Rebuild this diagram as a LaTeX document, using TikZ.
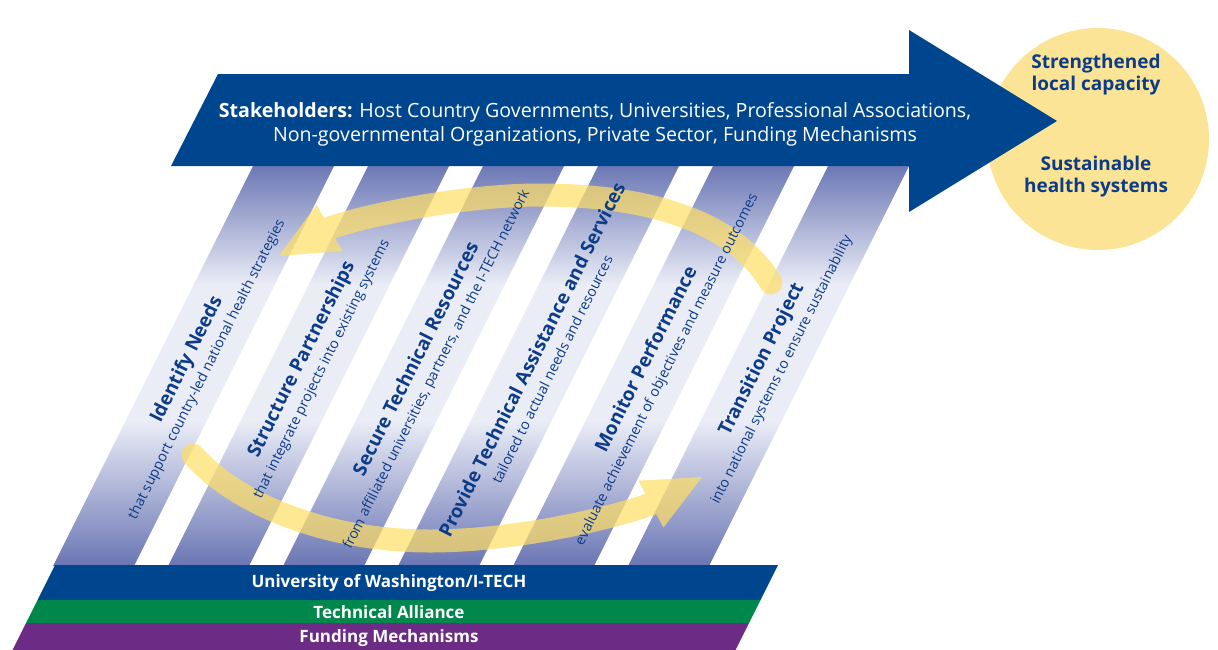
\documentclass[tikz,border=0pt]{standalone}
\usepackage{fontspec}
\setmainfont{Open Sans}
\usepackage{xcolor}
\usepackage{tikz}
\usetikzlibrary{shapes,arrows.meta,positioning,calc}

\definecolor{itechblue}{RGB}{0,70,142}
\definecolor{itechgreen}{RGB}{0,136,76}
\definecolor{itechpurple}{RGB}{108,44,134}
\definecolor{stripedark}{RGB}{106,118,180}
\definecolor{stripelight}{RGB}{234,236,246}
\definecolor{goalyellow}{RGB}{252,228,150}
\definecolor{cyclegold}{RGB}{255,222,100}
\definecolor{steptext}{RGB}{12,60,136}

\pgfdeclareverticalshading{stripeshade}{100bp}{color(0bp)=(stripedark); color(25bp)=(stripedark); color(43bp)=(stripelight); color(60bp)=(stripelight); color(75bp)=(stripedark); color(100bp)=(stripedark)}

\newcommand{\steptitle}{\fontsize{19}{21}\bfseries\selectfont}

\begin{document}
\begin{tikzpicture}[
    x=1pt, y=-1pt,
    stripe/.style={shading=stripeshade},
    steplabel/.style={rotate=63.43, align=center, text=steptext, inner sep=0pt, font=\fontsize{14.2}{21}\selectfont},
    cyclearrow/.style={line width=23pt, draw=cyclegold, line cap=round, -{Triangle[length=60pt, width=48pt]}},
    goalcircle/.style={circle, fill=goalyellow, minimum size=222pt, inner sep=0pt},
    goaltext/.style={align=center, text=steptext, font=\fontsize{19}{22}\bfseries\selectfont},
    bandtext/.style={text=white, font=\fontsize{17}{19}\bfseries\selectfont}
]
    \useasboundingbox (0,0) rectangle (1218,649);

    \path [stripe] (254,164) -- ++(81,0) -- ++(-201,402) -- ++(-81,0) -- cycle;
    \path [stripe] (369,164) -- ++(81,0) -- ++(-201,402) -- ++(-81,0) -- cycle;
    \path [stripe] (484,164) -- ++(81,0) -- ++(-201,402) -- ++(-81,0) -- cycle;
    \path [stripe] (599,164) -- ++(81,0) -- ++(-201,402) -- ++(-81,0) -- cycle;
    \path [stripe] (714,164) -- ++(81,0) -- ++(-201,402) -- ++(-81,0) -- cycle;
    \path [stripe] (829,164) -- ++(81,0) -- ++(-201,402) -- ++(-81,0) -- cycle;

    \begin{scope}[transparency group, opacity=0.7]
        \draw [cyclearrow] (771,283) .. controls (735,222) and (650,195) .. (540,195) .. controls (450,195) and (340,222) .. (277,257);
    \end{scope}
    \begin{scope}[transparency group, opacity=0.7]
        \draw [cyclearrow] (193,455) .. controls (232,500) and (320,541) .. (430,541) .. controls (530,541) and (640,510) .. (704,476);
    \end{scope}

    \node [steplabel] (needs) at (196,364) {{\steptitle Identify Needs}\\that support country-led national health strategies};
    \node [steplabel] (partner) at (311,364) {{\steptitle Structure Partnerships}\\that integrate projects into existing systems};
    \node [steplabel] (resource) at (426,364) {{\steptitle Secure Technical Resources}\\from affiliated universities, partners, and the I-TECH network};
    \node [steplabel] (assist) at (541,364) {{\steptitle Provide Technical Assistance and Services}\\tailored to actual needs and resources};
    \node [steplabel] (monitor) at (656,364) {{\steptitle Monitor Performance}\\evaluate achievement of objectives and measure outcomes};
    \node [steplabel] (transit) at (771,364) {{\steptitle Transition Project}\\into national systems to ensure sustainability};

    \node [goalcircle] (goal) at (1098,139) {};
    \node [goaltext] (capacity) at (1096,75) {Strengthened\\local capacity};
    \node [goaltext] (health) at (1096,177) {Sustainable\\health systems};

    \fill [itechblue] (218,74) -- (909,74) -- (909,30) -- (1057,121) -- (909,212) -- (909,166) -- (171,166) -- cycle;
    \node [align=center, text=white, font=\fontsize{19.6}{24}\selectfont] (stake) at (595,124) {\textbf{Stakeholders:} Host Country Governments, Universities, Professional Associations,\\Non-governmental Organizations, Private Sector, Funding Mechanisms};

    \fill [itechblue] (55,565) -- (778,565) -- (760.5,600) -- (37.5,600) -- cycle;
    \fill [itechgreen] (37.5,600) -- (760.5,600) -- (749,623) -- (26,623) -- cycle;
    \fill [itechpurple] (26,623) -- (749,623) -- (735,651) -- (12,651) -- cycle;
    \node [bandtext] (uw) at (389,583) {University of Washington/I-TECH};
    \node [bandtext] (alliance) at (389,612) {Technical Alliance};
    \node [bandtext] (funding) at (389,638) {Funding Mechanisms};
\end{tikzpicture}
\end{document}
